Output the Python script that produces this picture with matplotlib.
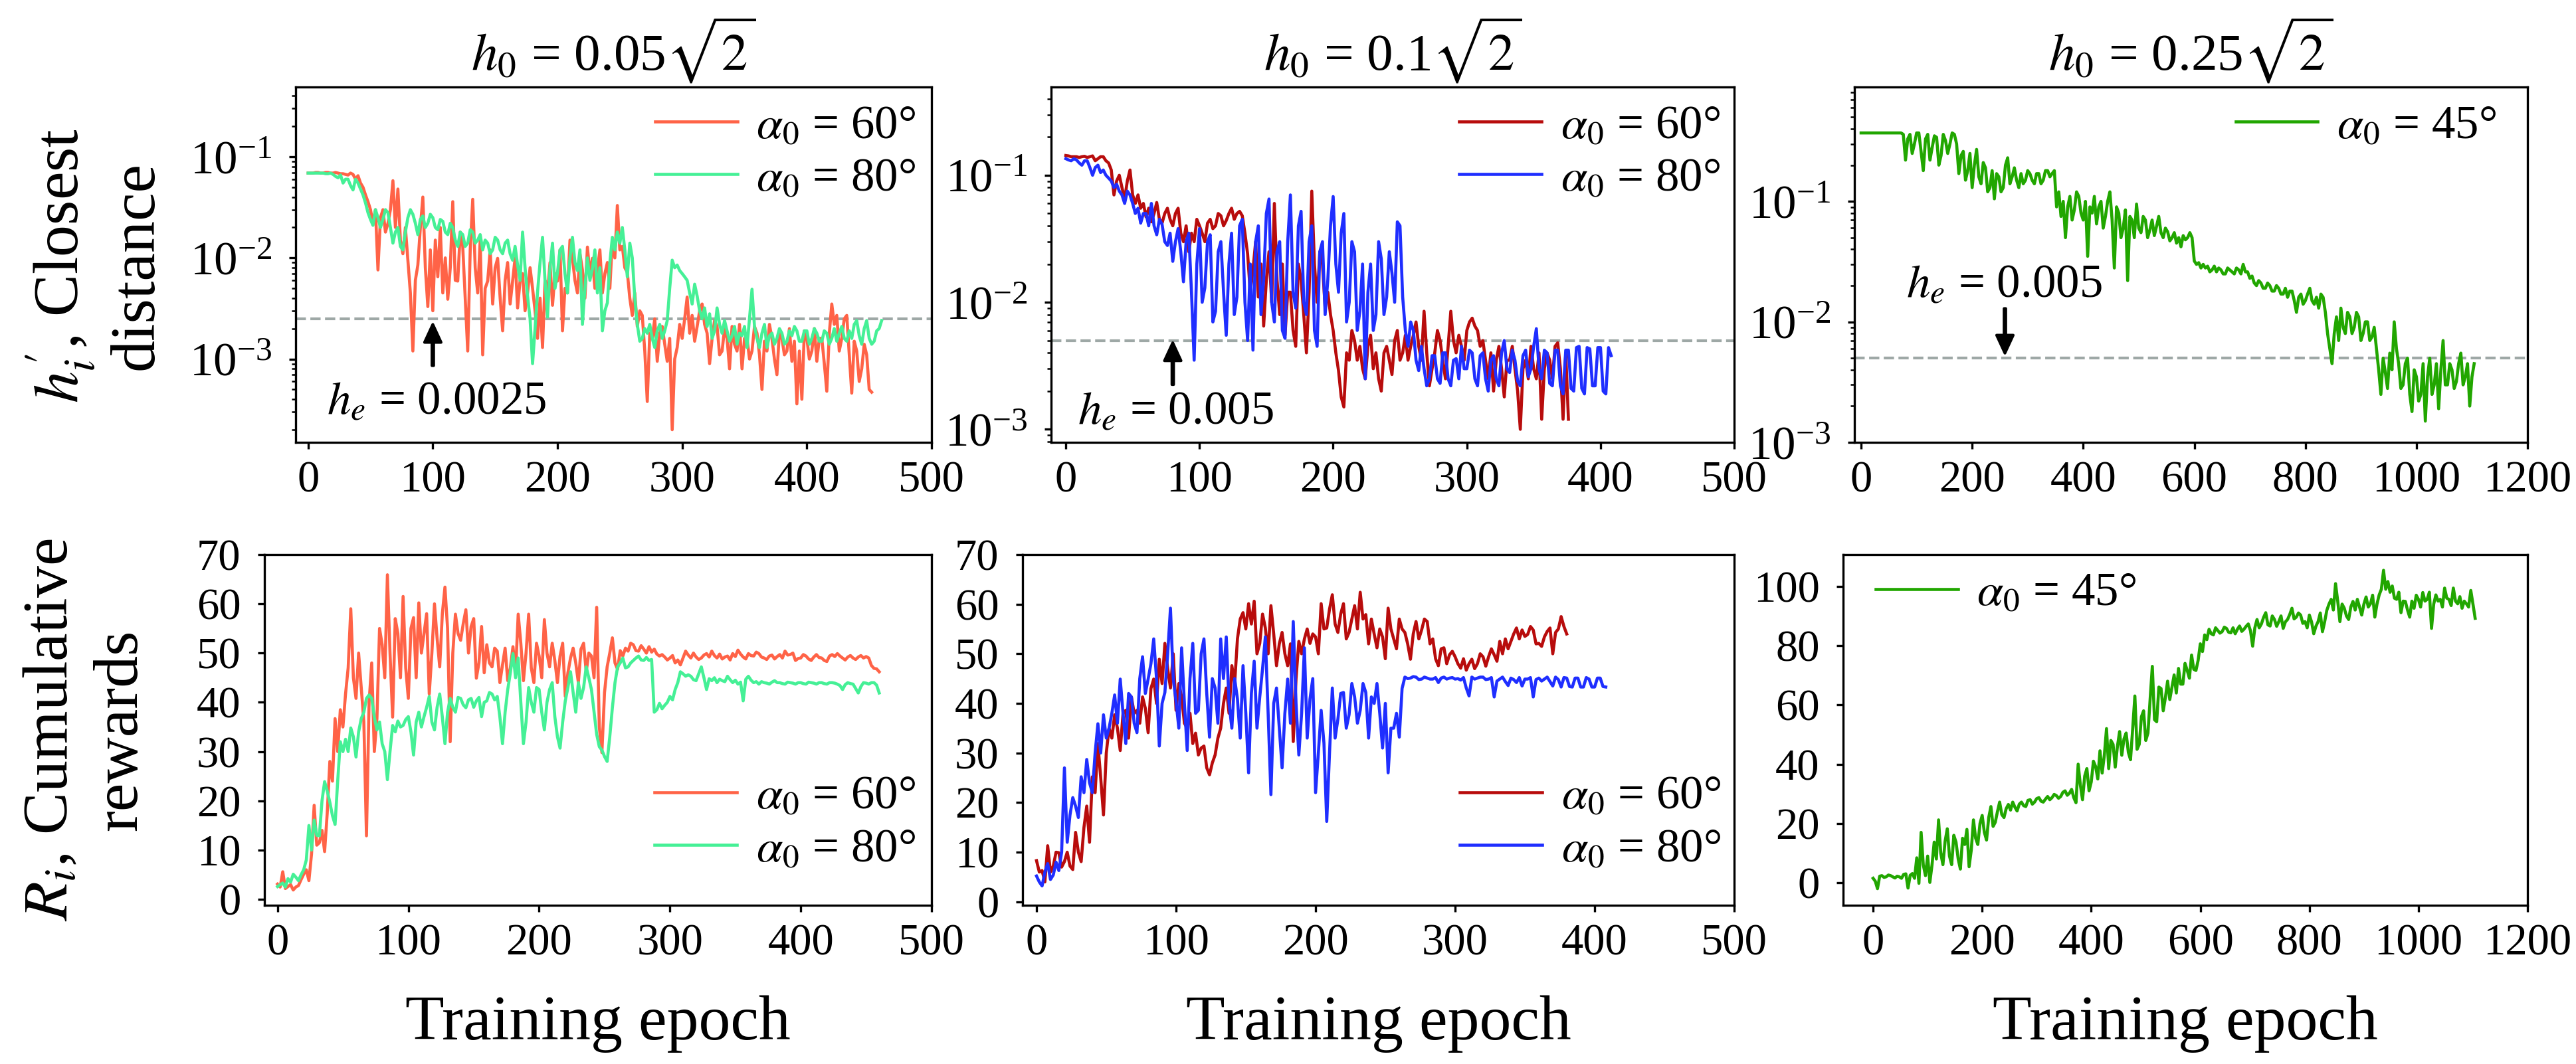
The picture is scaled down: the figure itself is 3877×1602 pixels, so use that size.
import matplotlib.pyplot as plt
import numpy as np

plt.rcParams['font.family'] = ['Liberation Serif', 'DejaVu Serif']
plt.rcParams['mathtext.fontset'] = 'stix'

# ---- closest distance h'_i (top row) ----
h1_60 = [0.069, 0.069, 0.069, 0.07, 0.07, 0.069, 0.069, 0.07, 0.07, 0.069,
         0.069, 0.07, 0.069, 0.068, 0.068, 0.067, 0.066, 0.069, 0.067, 0.06,
         0.065, 0.055, 0.05, 0.042, 0.036, 0.03, 0.022, 0.03, 0.0076, 0.025,
         0.03, 0.018, 0.022, 0.03, 0.058, 0.02, 0.048, 0.015, 0.011, 0.02,
         0.0095, 0.0045, 0.0012, 0.006, 0.0085, 0.02, 0.04, 0.008, 0.0033, 0.012,
         0.003, 0.015, 0.0065, 0.02, 0.0045, 0.01, 0.0039, 0.008, 0.036, 0.006,
         0.0059, 0.018, 0.013, 0.004, 0.0012, 0.012, 0.038, 0.008, 0.0045, 0.015,
         0.0011, 0.005, 0.0059, 0.012, 0.0035, 0.008, 0.0099, 0.004, 0.0019, 0.006,
         0.009, 0.0035, 0.0059, 0.01, 0.0032, 0.006, 0.007, 0.003, 0.0045, 0.008,
         0.005, 0.003, 0.0016, 0.004, 0.0013, 0.006, 0.0045, 0.009, 0.0034, 0.007,
         0.0059, 0.012, 0.0019, 0.005, 0.0045, 0.015, 0.0099, 0.006, 0.0045, 0.011,
         0.0076, 0.004, 0.0128, 0.007, 0.0099, 0.005, 0.0076, 0.012, 0.0045, 0.007,
         0.009, 0.005, 0.015, 0.01, 0.033, 0.012, 0.013, 0.008, 0.0072, 0.004,
         0.0027, 0.0045, 0.0021, 0.003, 0.0027, 0.0012, 0.00038, 0.0018, 0.0016, 0.0025,
         0.00095, 0.0018, 0.0021, 0.0014, 0.00095, 0.0016, 0.0002, 0.001, 0.0013, 0.0022,
         0.0016, 0.0025, 0.0041, 0.0018, 0.0027, 0.0015, 0.0021, 0.003, 0.0035, 0.0022,
         0.0018, 0.0009, 0.0016, 0.0024, 0.0021, 0.0011, 0.0012, 0.002, 0.0016, 0.0008,
         0.0021, 0.0014, 0.0012, 0.0022, 0.0008, 0.0016, 0.0016, 0.001, 0.0012, 0.0021,
         0.0018, 0.0011, 0.0005, 0.0015, 0.0012, 0.0022, 0.0016, 0.001, 0.0007, 0.0019,
         0.0016, 0.0011, 0.0012, 0.002, 0.00095, 0.0015, 0.00036, 0.0012, 0.0004, 0.0019,
         0.0016, 0.001, 0.0012, 0.002, 0.00095, 0.0016, 0.0016, 0.0009, 0.00048, 0.0018,
         0.0035, 0.0022, 0.0027, 0.0012, 0.0016, 0.0025, 0.0027, 0.0011, 0.00046, 0.0015,
         0.0012, 0.0006, 0.0008, 0.0014, 0.0011, 0.0005, 0.00047]
h1_80 = [0.069, 0.069, 0.069, 0.069, 0.069, 0.069, 0.069, 0.068, 0.068, 0.069,
         0.067, 0.064, 0.062, 0.066, 0.055, 0.06, 0.06, 0.052, 0.047, 0.06,
         0.055, 0.048, 0.042, 0.035, 0.028, 0.024, 0.021, 0.03, 0.025, 0.02,
         0.024, 0.03, 0.028, 0.02, 0.014, 0.018, 0.02, 0.013, 0.012, 0.018,
         0.025, 0.03, 0.027, 0.022, 0.017, 0.024, 0.026, 0.02, 0.022, 0.027,
         0.025, 0.02, 0.019, 0.024, 0.023, 0.018, 0.017, 0.022, 0.02, 0.015,
         0.013, 0.018, 0.017, 0.013, 0.014, 0.019, 0.018, 0.014, 0.015, 0.017,
         0.012, 0.015, 0.014, 0.011, 0.012, 0.016, 0.015, 0.012, 0.011, 0.014,
         0.015, 0.011, 0.0095, 0.013, 0.0085, 0.006, 0.018, 0.008, 0.0042, 0.0025,
         0.0009, 0.002, 0.0046, 0.009, 0.016, 0.006, 0.0026, 0.008, 0.014, 0.005,
         0.0072, 0.012, 0.013, 0.007, 0.0045, 0.01, 0.016, 0.009, 0.0075, 0.012,
         0.0022, 0.005, 0.01, 0.006, 0.0078, 0.012, 0.0045, 0.008, 0.0019, 0.003,
         0.0036, 0.009, 0.016, 0.012, 0.018, 0.014, 0.02, 0.012, 0.0065, 0.014,
         0.01, 0.004, 0.0022, 0.0015, 0.0016, 0.002, 0.0018, 0.0022, 0.0016, 0.0013,
         0.0019, 0.0022, 0.0016, 0.0019, 0.0024, 0.005, 0.0095, 0.008, 0.0085, 0.0075,
         0.007, 0.0065, 0.006, 0.0045, 0.0035, 0.0055, 0.0042, 0.003, 0.0025, 0.0032,
         0.0021, 0.0028, 0.0016, 0.0019, 0.0032, 0.0022, 0.0018, 0.0024, 0.0019, 0.0015,
         0.0017, 0.0021, 0.0014, 0.0018, 0.0017, 0.0021, 0.0013, 0.0025, 0.0049, 0.0021,
         0.0016, 0.0013, 0.0018, 0.0022, 0.0013, 0.0017, 0.0018, 0.0014, 0.0016, 0.002,
         0.0018, 0.0014, 0.0015, 0.0019, 0.0017, 0.0021, 0.0019, 0.0015, 0.0015, 0.0019,
         0.0019, 0.0014, 0.0016, 0.002, 0.0018, 0.0015, 0.0015, 0.0019, 0.0018, 0.0014,
         0.0016, 0.002, 0.0015, 0.0018, 0.0021, 0.0016, 0.0015, 0.0019, 0.0016, 0.0022,
         0.0024, 0.0017, 0.0014, 0.002, 0.0024, 0.0016, 0.0014, 0.0015, 0.0019, 0.002,
         0.0024]
h2_60 = [0.143, 0.142, 0.14, 0.14, 0.14, 0.138, 0.14, 0.141, 0.138, 0.14,
         0.142, 0.13, 0.135, 0.14, 0.14, 0.13, 0.125, 0.11, 0.07, 0.09,
         0.1, 0.08, 0.065, 0.09, 0.11, 0.07, 0.06, 0.07, 0.055, 0.06,
         0.047, 0.055, 0.043, 0.05, 0.061, 0.045, 0.042, 0.05, 0.055, 0.045,
         0.04, 0.05, 0.055, 0.035, 0.03, 0.04, 0.025, 0.035, 0.03, 0.045,
         0.04, 0.035, 0.03, 0.042, 0.045, 0.038, 0.04, 0.05, 0.048, 0.04,
         0.044, 0.05, 0.055, 0.045, 0.05, 0.052, 0.048, 0.035, 0.024, 0.012,
         0.018, 0.03, 0.011, 0.02, 0.0065, 0.015, 0.025, 0.01, 0.06, 0.015,
         0.008, 0.02, 0.0055, 0.012, 0.012, 0.006, 0.0045, 0.02, 0.015, 0.008,
         0.004, 0.012, 0.075, 0.02, 0.01, 0.025, 0.02, 0.009, 0.012, 0.008,
         0.006, 0.004, 0.0029, 0.0018, 0.0015, 0.004, 0.0035, 0.006, 0.005, 0.0035,
         0.0045, 0.003, 0.0025, 0.0045, 0.0055, 0.003, 0.004, 0.0025, 0.002, 0.004,
         0.0045, 0.0035, 0.0027, 0.005, 0.006, 0.0035, 0.004, 0.0055, 0.0035, 0.0045,
         0.0055, 0.007, 0.0045, 0.0035, 0.0085, 0.004, 0.0022, 0.003, 0.004, 0.006,
         0.005, 0.0035, 0.0025, 0.0045, 0.0085, 0.005, 0.004, 0.0055, 0.0045, 0.0035,
         0.006, 0.007, 0.0075, 0.0065, 0.006, 0.0045, 0.005, 0.0035, 0.0025, 0.004,
         0.002, 0.0035, 0.0045, 0.003, 0.0018, 0.0035, 0.0035, 0.0045, 0.003, 0.002,
         0.001, 0.003, 0.0035, 0.0025, 0.0045, 0.003, 0.0025, 0.004, 0.0012, 0.003,
         0.004, 0.0035, 0.0025, 0.0045, 0.0048, 0.003, 0.0012, 0.004, 0.0012]
h2_80 = [0.135, 0.132, 0.13, 0.135, 0.132, 0.125, 0.12, 0.13, 0.13, 0.115,
         0.1, 0.115, 0.12, 0.105, 0.11, 0.1, 0.095, 0.09, 0.08, 0.085,
         0.075, 0.07, 0.06, 0.075, 0.07, 0.06, 0.05, 0.055, 0.042, 0.05,
         0.05, 0.04, 0.06, 0.04, 0.034, 0.045, 0.041, 0.03, 0.028, 0.035,
         0.021, 0.03, 0.038, 0.025, 0.0145, 0.03, 0.035, 0.012, 0.0035, 0.02,
         0.038, 0.01, 0.013, 0.03, 0.034, 0.007, 0.0085, 0.025, 0.03, 0.012,
         0.0055, 0.02, 0.035, 0.008, 0.011, 0.04, 0.045, 0.01, 0.005, 0.02,
         0.0042, 0.03, 0.04, 0.008, 0.015, 0.05, 0.065, 0.01, 0.007, 0.025,
         0.03, 0.006, 0.0052, 0.03, 0.07, 0.012, 0.009, 0.04, 0.052, 0.01,
         0.008, 0.03, 0.04, 0.006, 0.0045, 0.025, 0.03, 0.008, 0.015, 0.04,
         0.068, 0.02, 0.012, 0.035, 0.05, 0.007, 0.01, 0.03, 0.025, 0.006,
         0.0085, 0.02, 0.0025, 0.012, 0.02, 0.006, 0.008, 0.03, 0.022, 0.008,
         0.011, 0.025, 0.017, 0.01, 0.043, 0.04, 0.011, 0.006, 0.0045, 0.007,
         0.006, 0.0035, 0.0029, 0.0045, 0.003, 0.0022, 0.0025, 0.0038, 0.0038, 0.0025,
         0.0023, 0.004, 0.004, 0.0025, 0.0022, 0.0035, 0.0036, 0.0025, 0.0045, 0.003,
         0.003, 0.0042, 0.004, 0.0025, 0.0022, 0.0038, 0.004, 0.0025, 0.002, 0.0035,
         0.0038, 0.0025, 0.0022, 0.004, 0.005, 0.003, 0.0028, 0.0042, 0.0035, 0.0024,
         0.0022, 0.0038, 0.0042, 0.0026, 0.003, 0.0045, 0.0062, 0.003, 0.0025, 0.0042,
         0.004, 0.0023, 0.0022, 0.0042, 0.0042, 0.0022, 0.0019, 0.0042, 0.0042, 0.0021,
         0.002, 0.0044, 0.0045, 0.0021, 0.0019, 0.0044, 0.0043, 0.0022, 0.0022, 0.0044,
         0.0044, 0.002, 0.0019, 0.0044, 0.0038]
h3_45 = [0.37, 0.37, 0.37, 0.37, 0.37, 0.37, 0.37, 0.37, 0.37, 0.37,
         0.37, 0.37, 0.37, 0.37, 0.37, 0.37, 0.37, 0.37, 0.37, 0.36,
         0.22, 0.33, 0.36, 0.25, 0.3, 0.37, 0.37, 0.26, 0.18, 0.33,
         0.36, 0.22, 0.28, 0.35, 0.34, 0.2, 0.24, 0.36, 0.32, 0.25,
         0.3, 0.37, 0.36, 0.3, 0.17, 0.24, 0.26, 0.15, 0.18, 0.25,
         0.13, 0.2, 0.27, 0.16, 0.14, 0.21, 0.19, 0.12, 0.13, 0.18,
         0.105, 0.17, 0.16, 0.12, 0.13, 0.2, 0.23, 0.14, 0.16, 0.19,
         0.15, 0.13, 0.17, 0.14, 0.15, 0.18, 0.17, 0.15, 0.14, 0.17,
         0.17, 0.14, 0.15, 0.18, 0.18, 0.16, 0.17, 0.18, 0.09, 0.12,
         0.075, 0.1, 0.05, 0.09, 0.11, 0.07, 0.085, 0.12, 0.11, 0.08,
         0.07, 0.1, 0.035, 0.09, 0.08, 0.11, 0.065, 0.09, 0.1, 0.06,
         0.075, 0.1, 0.12, 0.07, 0.028, 0.09, 0.08, 0.05, 0.06, 0.085,
         0.022, 0.075, 0.07, 0.05, 0.095, 0.06, 0.055, 0.075, 0.07, 0.05,
         0.058, 0.07, 0.052, 0.062, 0.075, 0.055, 0.05, 0.06, 0.056, 0.047,
         0.05, 0.055, 0.045, 0.05, 0.042, 0.052, 0.048, 0.05, 0.055, 0.05,
         0.032, 0.03, 0.031, 0.028, 0.03, 0.028, 0.029, 0.026, 0.027, 0.029,
         0.026, 0.028, 0.027, 0.025, 0.025, 0.028, 0.027, 0.026, 0.025, 0.028,
         0.027, 0.025, 0.03, 0.026, 0.026, 0.023, 0.024, 0.021, 0.02, 0.022,
         0.021, 0.019, 0.019, 0.021, 0.02, 0.018, 0.018, 0.02, 0.019, 0.017,
         0.017, 0.019, 0.016, 0.018, 0.018, 0.015, 0.012, 0.016, 0.017, 0.014,
         0.015, 0.017, 0.019, 0.015, 0.014, 0.016, 0.013, 0.017, 0.016, 0.012,
         0.008, 0.006, 0.0045, 0.008, 0.011, 0.007, 0.013, 0.009, 0.008, 0.012,
         0.011, 0.008, 0.009, 0.012, 0.011, 0.007, 0.008, 0.01, 0.01, 0.007,
         0.0075, 0.009, 0.006, 0.004, 0.0025, 0.005, 0.0038, 0.0028, 0.0055, 0.004,
         0.01, 0.006, 0.0045, 0.0028, 0.003, 0.0045, 0.005, 0.0025, 0.0018, 0.004,
         0.0035, 0.0022, 0.0025, 0.0045, 0.0015, 0.0035, 0.005, 0.0025, 0.003, 0.0045,
         0.0019, 0.004, 0.007, 0.003, 0.003, 0.0045, 0.004, 0.0028, 0.0032, 0.0045,
         0.0055, 0.003, 0.0035, 0.0045, 0.002, 0.0035, 0.0045]

# ---- cumulative rewards R_i (bottom row) ----
r1_60 = [3.1, 2.5, 5.6, 2.2, 2.6, 3, 1.9, 2.5, 2.8, 4,
         5.1, 6, 3.8, 9.2, 19.1, 11, 11.5, 14, 9.7, 17.5,
         28, 24, 36.7, 30, 38.5, 35, 41.7, 47, 59, 45,
         40.8, 50, 43, 36, 12.9, 40, 48, 30, 36.7, 55,
         51.7, 45, 65.9, 50, 37, 57, 54, 45, 61.5, 47,
         40.8, 55, 57.2, 45, 60.2, 50, 54, 58, 41.7, 50,
         60, 53, 47.2, 58, 63.4, 55, 32, 50, 57.9, 54,
         52.6, 56, 58.8, 50, 55.4, 57, 44.9, 48, 55.4, 46,
         51.7, 48, 47.2, 51, 50.4, 44, 47.6, 51, 44.4, 47,
         51.3, 46, 57.9, 52, 44.4, 50, 57.9, 47, 44, 52,
         49.4, 45, 56.8, 50, 47.2, 52, 48.5, 44, 49.4, 52,
         41.2, 46, 49, 51, 48, 44, 50.8, 52, 46.2, 50,
         49.4, 45, 59.3, 35, 29.8, 42, 47.2, 50, 53.1, 48,
         46.7, 50.5, 49.4, 51, 50.4, 52, 51.7, 50.5, 50.4, 51.5,
         50.8, 50, 51.3, 50.2, 50.8, 49.8, 49.4, 49.7, 49.2, 48.6,
         49, 49.5, 48, 48.6, 47.6, 49, 50.4, 49.6, 49, 50,
         49.2, 48.7, 49, 49.6, 49.9, 49.2, 50.4, 49.5, 49, 49.8,
         48.8, 49.2, 49.4, 48.6, 49.9, 49.3, 50.6, 49.8, 49.2, 48.8,
         49.9, 49.5, 49.4, 50.2, 49.9, 49.2, 49, 48.7, 49.4, 49.6,
         48.8, 49.3, 49.7, 49, 50.4, 49.6, 49.7, 50, 48.5, 48.9,
         49, 49.7, 49.4, 48.8, 48.5, 49.2, 49.7, 49.1, 49, 48.5,
         48.3, 49.4, 49.7, 49.3, 49.9, 49.4, 49, 48.6, 49.2, 49.5,
         49, 48.7, 49.2, 49.5, 49, 49.3, 49, 47.5, 46.9, 46.8,
         46.2]
r1_80 = [2.6, 3, 3.3, 2.5, 4.2, 3.5, 5.1, 4.5, 3.8, 5,
         6, 8, 15, 10, 16.1, 13, 12.9, 20, 23.9, 22,
         19.7, 17, 15.2, 24, 32, 30, 32.5, 30, 34.8, 33,
         28.9, 34, 36.7, 38, 40.8, 41.5, 40.8, 37, 34.4, 36,
         31.6, 30, 24.3, 30, 35.3, 34, 36.2, 35, 35.3, 36.5,
         37.1, 34, 29.3, 36, 38, 35, 37.1, 39, 41.2, 36,
         34.4, 39, 41.7, 37, 31.6, 38, 40.8, 39, 38, 41,
         40.8, 39.5, 38.9, 40.5, 40.8, 39, 40.3, 41, 37.1, 40,
         40.3, 42, 41.7, 40.5, 41.2, 37, 31.6, 38, 42.6, 46,
         49.9, 45, 49, 40, 31.6, 36, 43, 40, 38, 43,
         42.6, 38, 34.4, 40, 42.6, 44, 37.1, 33, 30.7, 36,
         40.3, 43, 46.2, 42, 38, 44, 40.8, 43, 47.2, 45,
         42.6, 38, 33.5, 31, 30.3, 29, 28, 33, 38.9, 44,
         47.2, 48, 49, 47, 47.2, 48, 48.5, 49, 49.4, 48.6,
         48.5, 49.1, 48.5, 48.7, 38, 38.5, 39.8, 38.7, 39.4, 40,
         41.2, 40.5, 42.6, 44, 46.2, 45.8, 45.3, 45.6, 45.3, 44.6,
         44.4, 45.8, 47.2, 45, 42.6, 44.8, 44.4, 45, 44, 44.7,
         44.4, 44.2, 45.3, 44.6, 44, 44.5, 43.7, 44.1, 40.3, 44.7,
         45.3, 44.5, 44, 44.2, 43.7, 44.2, 44, 43.9, 43.7, 44.1,
         44.4, 44, 44, 43.8, 43.7, 44.1, 44, 43.9, 43.7, 44,
         44, 43.8, 43.7, 44.1, 44, 43.9, 43.7, 44, 44, 43.8,
         43.7, 44, 44, 43.9, 43.7, 43.4, 42.6, 43.6, 44, 43.8,
         43.7, 42.8, 41.9, 43.2, 44, 43.9, 43.7, 44, 44, 43.5,
         41.9]
r2_60 = [8.3, 6, 6.3, 4, 11.3, 6, 7.2, 10, 9.9, 7,
         8.1, 10, 7.2, 6.5, 14, 10, 8.1, 15, 19.3, 12,
         25.2, 22, 31.9, 25, 17.5, 30, 35, 33, 37.7, 35,
         30.5, 38, 38.6, 33, 41.3, 38, 38.6, 36, 41.3, 39,
         34.1, 43, 44.9, 40, 48.9, 44, 52.1, 47, 43.1, 50,
         38.6, 44, 41.3, 36, 35, 38, 31.9, 34, 29.6, 31,
         31.4, 27, 25.6, 28, 29.6, 33, 35, 40, 43.1, 38,
         47.6, 44, 53, 57, 58.3, 55, 60.1, 56, 60.6, 50,
         52.1, 58, 55.2, 50, 59.7, 54, 47.6, 52, 54.3, 50,
         47.6, 52, 32.3, 45, 52.5, 50, 53, 55, 52.1, 54,
         53.4, 50, 60.1, 55, 55.2, 59, 61.9, 56, 54.3, 58,
         60.1, 53, 54.3, 57, 59.7, 55, 62.4, 57, 57.9, 52,
         57, 54, 51.2, 55, 53.4, 49, 59.2, 55, 53, 51,
         57, 55, 54.3, 52, 48.9, 54, 56.5, 53, 54.8, 57,
         56.5, 52, 53, 49, 47.6, 51, 51.2, 48, 49.8, 50.5,
         49.4, 48, 47.1, 49, 46.7, 48, 48.9, 47, 48, 50,
         49.4, 47.5, 49.4, 51, 49.8, 48.5, 52.5, 50, 53, 51,
         52.5, 54, 55.2, 53, 54.8, 53.5, 53.9, 55.5, 54.8, 52,
         52.1, 51.5, 53.4, 54.5, 55.2, 50, 54.3, 55, 57.5, 55.5,
         54]
r2_80 = [5.2, 4, 3.2, 6, 7.7, 4.5, 5.4, 8, 6.3, 10,
         27, 12, 17.5, 21, 19.3, 17, 25.2, 22, 28.7, 24,
         22, 30, 35.9, 30, 37.7, 33, 35, 38, 41.7, 36,
         44.9, 38, 31.9, 42, 41.3, 36, 34.1, 45, 49.4, 42,
         44.9, 48, 53, 45, 31.4, 40, 42.2, 50, 59.2, 45,
         40.4, 35, 51.2, 40, 30.5, 45, 52.1, 38, 38.6, 50,
         53, 42, 33.2, 45, 43.1, 36, 53, 45, 53.4, 40,
         35, 45, 40.9, 33, 47.6, 38, 26, 42, 48.5, 35,
         41.3, 47, 53.4, 38, 21.6, 40, 43.1, 35, 27, 38,
         44.9, 36, 56.5, 40, 29.6, 38, 51.2, 33, 40.9, 45,
         22, 30, 38.6, 32, 16.2, 30, 43.1, 33, 36.8, 42,
         42.2, 35, 37.7, 44, 41.3, 36, 38.6, 44, 42.2, 33,
         41.3, 40, 44, 38, 31, 40, 26, 35, 35, 38,
         33.2, 43, 45.3, 45, 45.1, 45.4, 45.3, 44.8, 44.9, 45.3,
         45.1, 44.9, 44.9, 45.2, 44.2, 45.1, 45.3, 44.9, 45.1, 45.2,
         44.9, 45, 44.7, 45.2, 43.1, 41.5, 45.3, 44.9, 45.1, 45.3,
         45.3, 44.8, 44.9, 45.2, 41.3, 44.5, 44.9, 45.3, 44.4, 43.6,
         45.1, 44.8, 44.2, 45.2, 43.5, 44.9, 44.9, 45.2, 41.3, 44.8,
         45.1, 44.5, 44.9, 45.3, 44.4, 43.5, 45.3, 44.8, 43.3, 45.2,
         45.1, 43.4, 43.3, 45.1, 45.1, 43.3, 43.3, 45.2, 44.9, 43.3,
         43.3, 45.1, 45.1, 43.4, 43.3]
r3_45 = [1.5, 0.5, -2.0, 2.2, 2.4, 1.8, 2, 2.6, 2.4, 2,
         1.6, 2.2, 2, 1.5, 2.8, 3, -1.8, 2.5, 3.1, 1.5,
         8.4, -0.2, 17, 6, 2.4, 9, 0.1, 6, 13.7, 8,
         21.2, 10, 6.1, 14, 18.2, 9, 6.1, 16, 13.7, 8,
         4.6, 15, 12.9, 18, 5.4, 11, 21.2, 15, 12.9, 20,
         22.7, 17, 14.4, 22, 25.7, 19, 20.4, 24, 27.2, 23,
         22, 25, 26.4, 24.5, 27.2, 25.5, 24.2, 26.5, 27.2, 26,
         25.7, 27.8, 28, 26.5, 27.2, 28.4, 28.7, 27.5, 27.2, 28.2,
         29.1, 28, 28.7, 29.8, 29.4, 28.5, 29.1, 30.5, 31, 29.5,
         30.2, 31.5, 28.7, 27, 40, 33, 28, 36, 38.5, 31,
         34, 41, 39.2, 35, 44.5, 37, 43, 52, 38.5, 48,
         46.7, 39, 46, 51, 43, 48.5, 50.5, 44, 41.5, 52,
         63, 45, 46.7, 56, 58, 48, 50.5, 62, 73, 55,
         54.3, 66, 65.5, 58, 62.5, 68, 61.8, 66, 70.1, 64,
         72.3, 67, 67, 74, 71.6, 69, 76.8, 72, 71.6, 75,
         80.6, 78, 83.6, 82, 85.5, 84, 83.6, 86, 85.1, 84.2,
         84.7, 86.2, 85.8, 84.5, 84.3, 86, 84, 85.5, 86.6, 84.8,
         85.5, 86.5, 87.3, 85, 79.8, 86, 88.8, 86, 87.3, 89.5,
         91.1, 87, 86.6, 90, 88.8, 86.5, 88.1, 90, 85.8, 88,
         88.8, 90.5, 92.6, 89, 89.6, 91, 90.3, 87.5, 88.1, 86,
         90.3, 88, 84, 86.5, 88.1, 91, 84.7, 88, 91.9, 94,
         95.6, 92, 100.9, 95, 88.1, 94, 92.6, 90, 88.8, 93,
         94.9, 92, 95.6, 93, 90.3, 94, 96.4, 93, 94.1, 97,
         89.6, 94, 97.1, 99, 105.4, 99, 101.6, 98, 100.1, 96,
         95.6, 98, 91.1, 95, 94.9, 92, 89.6, 95, 92.6, 97,
         95.6, 93, 97.9, 95, 95.6, 98, 85.8, 94, 97.1, 95,
         95.6, 93, 99.4, 96, 95.6, 93.5, 99.4, 95, 94.1, 96.5,
         92.6, 95, 94.1, 93, 98.6, 94, 89.2]

titles = [r'$h_0$ = 0.05$\sqrt{2}$', r'$h_0$ = 0.1$\sqrt{2}$', r'$h_0$ = 0.25$\sqrt{2}$']
h_e = [0.0025, 0.005, 0.005]
lab60 = r'$\alpha_0$ = 60°'
lab80 = r'$\alpha_0$ = 80°'
lab45 = r'$\alpha_0$ = 45°'

W, H = 3877, 1602
fig = plt.figure(figsize=(W / 300, H / 300), dpi=300)


def px_axes(x0, y0, x1, y1):
    return fig.add_axes([x0 / W, 1 - y1 / H, (x1 - x0) / W, (y1 - y0) / H])


def epochs(vals, step):
    return np.arange(len(vals)) * step


def style(ax):
    ax.tick_params(which='major', length=2.5, width=0.8, labelsize=16)
    ax.tick_params(which='minor', length=1.5, width=0.6)
    ax.tick_params(axis='x', pad=4)
    ax.tick_params(axis='y', pad=6)


def legend(ax, loc, anchor):
    ax.legend(loc=loc, bbox_to_anchor=anchor, frameon=False, fontsize=17,
              handlelength=1.75, handletextpad=0.4, labelspacing=0.2,
              borderpad=0, borderaxespad=0)


arrow = dict(facecolor='black', edgecolor='black', width=0.6,
             headwidth=6, headlength=6.5, shrink=0)
dash = dict(color='#9EA8A6', ls='--', lw=1.0, zorder=1)
lw = 1.1

# top row
ax1 = px_axes(445, 131, 1402, 666)
ax2 = px_axes(1582, 131, 2610, 666)
ax3 = px_axes(2791, 131, 3804, 666)

ax1.plot(epochs(h1_60, 2), h1_60, color='#FF6347', lw=lw, label=lab60)
ax1.plot(epochs(h1_80, 2), h1_80, color='#45F096', lw=lw, label=lab80)
ax2.plot(epochs(h2_60, 2), h2_60, color='#B80C0C', lw=lw, label=lab60)
ax2.plot(epochs(h2_80, 2), h2_80, color='#1F2EFF', lw=lw, label=lab80)
ax3.plot(epochs(h3_45, 4), h3_45, color='#21A600', lw=lw, label=lab45)

for ax, t, he in zip([ax1, ax2, ax3], titles, h_e):
    ax.set_yscale('log')
    ax.axhline(he, **dash)
    ax.set_title(t, fontsize=19, pad=6)
    style(ax)
    ax.tick_params(axis='y', which='major', labelsize=17)

ax1.set_xlim(-10, 500)
ax1.set_ylim(1.5e-4, 0.49)
ax2.set_xlim(-11, 500)
ax2.set_ylim(7.9e-4, 0.495)
ax3.set_xlim(-12, 1200)
ax3.set_ylim(1e-3, 0.89)
for ax in [ax1, ax2]:
    ax.set_xticks([0, 100, 200, 300, 400, 500])
ax3.set_xticks([0, 200, 400, 600, 800, 1000, 1200])

ax1.annotate('', xy=(100, 2.2e-3), xytext=(100, 8.6e-4), arrowprops=arrow)
ax1.text(103, 3.75e-4, r'$h_e$ = 0.0025', ha='center', va='center', fontsize=17)
ax2.annotate('', xy=(80, 4.8e-3), xytext=(80, 2.25e-3), arrowprops=arrow)
ax2.text(82, 1.37e-3, r'$h_e$ = 0.005', ha='center', va='center', fontsize=17)
ax3.annotate('', xy=(259, 5.5e-3), xytext=(259, 1.29e-2), arrowprops=arrow)
ax3.text(257, 0.02, r'$h_e$ = 0.005', ha='center', va='center', fontsize=17)

legend(ax1, 'upper right', (0.975, 0.95))
legend(ax2, 'upper right', (0.9795, 0.95))
legend(ax3, 'upper right', (0.9536, 0.95))

# bottom row
ax4 = px_axes(398, 835, 1402, 1363)
ax5 = px_axes(1539, 835, 2610, 1363)
ax6 = px_axes(2774, 835, 3804, 1363)

ax4.plot(epochs(r1_60, 2), r1_60, color='#FF6347', lw=lw, label=lab60)
ax4.plot(epochs(r1_80, 2), r1_80, color='#45F096', lw=lw, label=lab80)
ax5.plot(epochs(r2_60, 2), r2_60, color='#B80C0C', lw=lw, label=lab60)
ax5.plot(epochs(r2_80, 2), r2_80, color='#1F2EFF', lw=lw, label=lab80)
ax6.plot(epochs(r3_45, 4), r3_45, color='#21A600', lw=lw, label=lab45)

for ax in [ax4, ax5, ax6]:
    style(ax)

ax4.set_xlim(-10, 500)
ax4.set_ylim(-1.2, 70)
ax5.set_xlim(-10, 500)
ax5.set_ylim(-0.7, 70)
ax6.set_xlim(-55, 1200)
ax6.set_ylim(-7.6, 110.7)
for ax in [ax4, ax5]:
    ax.set_xticks([0, 100, 200, 300, 400, 500])
    ax.set_yticks([0, 10, 20, 30, 40, 50, 60, 70])
ax6.set_xticks([0, 200, 400, 600, 800, 1000, 1200])
ax6.set_yticks([0, 20, 40, 60, 80, 100])

legend(ax4, 'lower right', (0.976, 0.097))
legend(ax5, 'lower right', (0.9813, 0.097))
legend(ax6, 'upper left', (0.0476, 0.95))

# row labels and x labels
fig.text(143 / W, 1 - 400 / H, r"$h^{\prime}_{i}$, Closest" + "\ndistance", rotation=90,
         ha='center', va='center', fontsize=23, linespacing=1.25, multialignment='center')
fig.text(130 / W, 1 - 1099 / H, r"$R_i$, Cumulative" + "\nrewards", rotation=90,
         ha='center', va='center', fontsize=23, linespacing=1.25, multialignment='center')
for ax in [ax4, ax5, ax6]:
    b = ax.get_position()
    fig.text(b.x0 + b.width / 2, 1 - 1542 / H, 'Training epoch',
             ha='center', va='center', fontsize=23)

fig.savefig('out.png', dpi=300)
